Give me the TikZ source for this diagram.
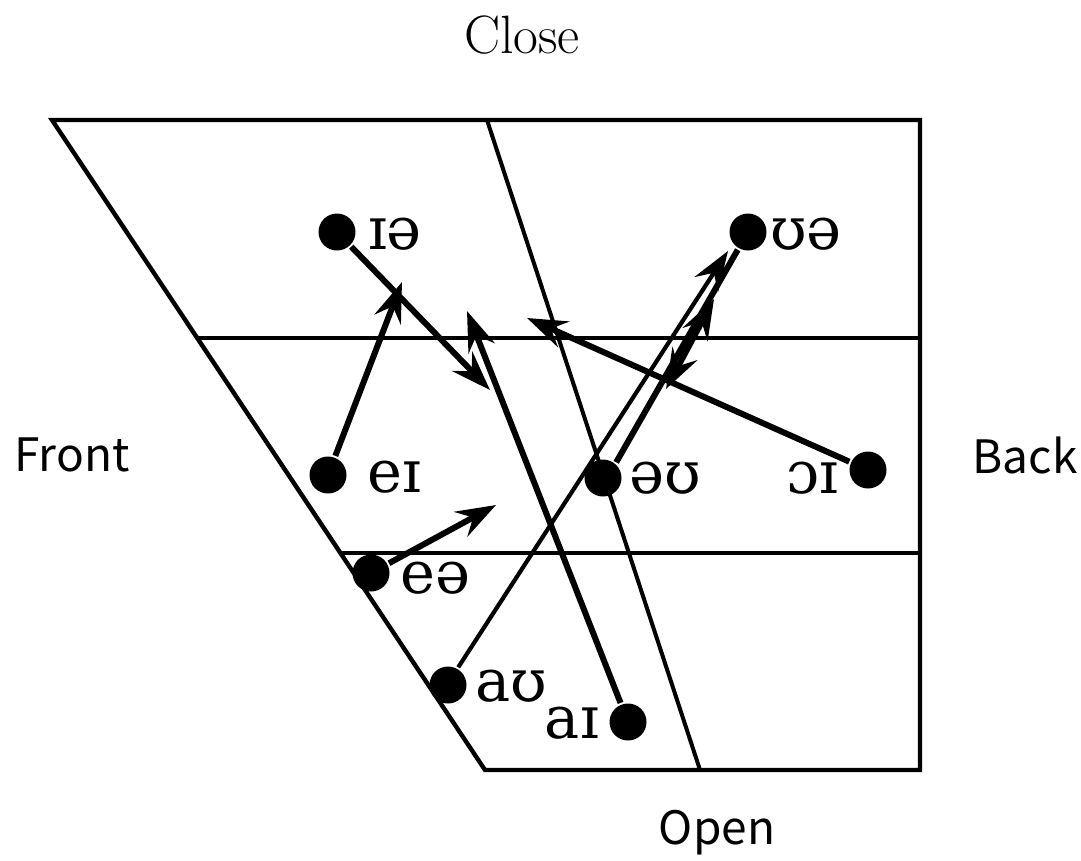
\documentclass[tikz,border=0pt]{standalone}
\usepackage{fontspec}
\usetikzlibrary{arrows.meta}
\newfontfamily\ipafont{DejaVu Serif}
\newfontfamily\jpfont{Noto Sans CJK JP}
\tikzset{glidetip/.tip={Stealth[length=40pt,width=28pt,inset=14pt]}}
\begin{document}
\begin{tikzpicture}[x=1pt,y=-1pt,
  frame/.style={line width=4.4pt, line join=miter},
  dot/.style={circle, fill=black, minimum size=37pt, inner sep=0pt, outer sep=2pt},
  ipa/.style={font=\ipafont\fontsize{59}{59}\selectfont, inner sep=0pt},
  axis/.style={font=\jpfont\fontsize{46}{46}\selectfont, inner sep=0pt},
  glide/.style={line width=6pt, -{glidetip}},
  plain/.style={line width=6pt}
]
\useasboundingbox (0,0) rectangle (1081,860);
% frame
\coordinate (TL) at (52,120);
\coordinate (TR) at (920,120);
\coordinate (BR) at (920,770);
\coordinate (BL) at (485,770);
\coordinate (IT) at (487,120);
\coordinate (IB) at (700,770);
\coordinate (H1L) at (197,338);
\coordinate (H1R) at (920,338);
\coordinate (H2L) at (341,553);
\coordinate (H2R) at (920,553);
\draw[frame] (TL) -- (TR) -- (BR) -- (BL) -- cycle;
\draw[line width=4pt] (IT) -- (IB);
\draw[line width=4pt] (H1L) -- (H1R);
\draw[line width=4pt] (H2L) -- (H2R);
% axis labels
\node[font=\fontsize{54}{54}\selectfont, inner sep=0pt] (close) at (522,35) {Close};
\node[axis] (front) at (72,455) {Front};
\node[axis] (back) at (1025,455) {Back};
\node[axis] (open) at (717,833) {Open};
% dots
\node[dot] (dIa) at (337,232) {};
\node[dot] (dUa) at (748,232) {};
\node[dot] (dEi) at (328,475) {};
\node[dot] (dOu) at (603,478) {};
\node[dot] (dOi) at (868,470) {};
\node[dot] (dEa) at (371,573) {};
\node[dot] (dAu) at (448,685) {};
\node[dot] (dAi) at (628,722) {};
% labels
\node[ipa] (lIa) at (395,234) {ɪə};
\node[ipa] (lUa) at (806,234) {ʊə};
\node[ipa] (lEi) at (394,477) {eɪ};
\node[ipa] (lOu) at (665,478) {əʊ};
\node[ipa] (lOi) at (812,478) {ɔɪ};
\node[ipa] (lEa) at (435,578) {eə};
\node[ipa] (lAu) at (511,686) {aʊ};
\node[ipa] (lAi) at (572,723) {aɪ};
% targets
\coordinate (tIa) at (490,390);
\coordinate (tEi) at (402,282);
\coordinate (tAi) at (467,311);
\coordinate (tOi) at (527,318);
\coordinate (tEa) at (496,505);
\coordinate (tAu) at (728,251);
\coordinate (aLo) at (666,389);
\coordinate (aHi) at (714,299);
% glides
\draw[glide] (dIa) -- (tIa);
\draw[glide] (dEi) -- (tEi);
\draw[glide] (dAi) -- (tAi);
\draw[glide] (dOi) -- (tOi);
\draw[glide] (dEa) -- (tEa);
\draw[glide, line width=4.2pt] (dAu.60) -- (tAu);
\draw[plain] (dOu.50) -- (dUa.240);
\draw[line width=6pt, {glidetip}-{glidetip}] (aLo) -- (aHi);
\end{tikzpicture}
\end{document}
